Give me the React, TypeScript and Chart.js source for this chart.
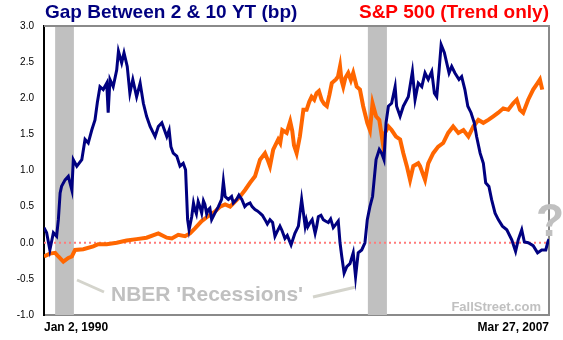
import React, { useEffect, useRef } from "react";
import { Chart, registerables } from "chart.js";

Chart.register(...registerables);

// ---------- DATA ----------
// Yield gap (10Y - 2Y), percentage points, by decimal year
const spreadDates = [
  1990.0, 1990.09, 1990.2, 1990.32, 1990.43, 1990.49, 1990.55, 1990.6, 1990.72, 1990.83, 1990.95,
  1991.0, 1991.12, 1991.29, 1991.4, 1991.51, 1991.63, 1991.74, 1991.82, 1991.91, 1992.02, 1992.14,
  1992.19, 1992.25, 1992.36, 1992.48, 1992.54, 1992.65, 1992.73, 1992.84, 1992.93, 1993.03, 1993.16,
  1993.28, 1993.39, 1993.5, 1993.62, 1993.79, 1993.9, 1994.02, 1994.19, 1994.27, 1994.33, 1994.41,
  1994.53, 1994.64, 1994.75, 1994.83, 1994.9, 1994.95, 1995.04, 1995.1, 1995.15, 1995.2, 1995.26,
  1995.32, 1995.38, 1995.44, 1995.49, 1995.55, 1995.61, 1995.66, 1995.72, 1995.83, 1995.95, 1996.06,
  1996.12, 1996.18, 1996.29, 1996.4, 1996.46, 1996.57, 1996.65, 1996.75, 1996.85, 1996.92, 1997.03,
  1997.1, 1997.2, 1997.28, 1997.37, 1997.45, 1997.54, 1997.62, 1997.71, 1997.8, 1997.88, 1997.95,
  1998.05, 1998.12, 1998.22, 1998.3, 1998.43, 1998.56, 1998.68, 1998.79, 1998.91, 1998.95, 1999.0,
  1999.08, 1999.15, 1999.25, 1999.3, 1999.36, 1999.45, 1999.53, 1999.6, 1999.7, 1999.78, 1999.87,
  1999.95, 2000.04, 2000.1, 2000.16, 2000.24, 2000.33, 2000.44, 2000.55, 2000.63, 2000.72, 2000.84,
  2000.95, 2001.03, 2001.12, 2001.21, 2001.33, 2001.44, 2001.52, 2001.6, 2001.67, 2001.75, 2001.86,
  2001.98, 2002.03, 2002.15, 2002.26, 2002.43, 2002.57, 2002.66, 2002.77, 2002.89, 2003.0, 2003.11,
  2003.23, 2003.32, 2003.4, 2003.48, 2003.55, 2003.66, 2003.74, 2003.82, 2003.91, 2004.02, 2004.16,
  2004.25, 2004.36, 2004.46, 2004.57, 2004.68, 2004.76, 2004.88, 2004.99, 2005.07, 2005.18, 2005.27,
  2005.39, 2005.5, 2005.64, 2005.79, 2005.96, 2006.09, 2006.18, 2006.3, 2006.39, 2006.52, 2006.69,
  2006.84, 2006.98, 2007.12, 2007.19, 2007.23,
];
const spreadValues = [
  0.21, 0.14, -0.1, 0.14, 0.09, 0.32, 0.69, 0.78, 0.87, 0.92, 0.73,
  1.15, 1.06, 1.15, 1.43, 1.38, 1.56, 1.7, 1.94, 2.16, 2.12, 2.21,
  1.8, 2.26, 2.16, 2.39, 2.65, 2.49, 2.63, 2.44, 2.07, 2.26, 2.02,
  2.21, 1.93, 1.75, 1.61, 1.47, 1.61, 1.66, 1.47, 1.56, 1.33, 1.24,
  1.2, 1.06, 1.1, 1.01, 0.32, 0.18, 0.36, 0.55, 0.46, 0.4, 0.57,
  0.5, 0.41, 0.58, 0.53, 0.4, 0.46, 0.48, 0.32, 0.41, 0.5, 0.6,
  0.85, 0.64, 0.6, 0.64, 0.55, 0.6, 0.66, 0.6, 0.5, 0.53, 0.55,
  0.5, 0.46, 0.44, 0.41, 0.38, 0.32, 0.26, 0.32, 0.28, 0.09, 0.15,
  0.23, 0.17, 0.06, 0.1, -0.03, 0.13, 0.23, 0.6, 0.23, 0.31, 0.22,
  0.28, 0.32, 0.13, 0.22, 0.36, 0.38, 0.32, 0.3, 0.28, 0.33, 0.21,
  0.25, 0.3, 0.0, -0.19, -0.42, -0.33, -0.29, -0.14, -0.47, -0.14, -0.1,
  0.0, 0.32, 0.5, 0.64, 1.15, 1.29, 1.24, 1.15, 1.66, 1.89, 1.93,
  2.16, 1.89, 1.75, 1.89, 2.02, 2.37, 1.98, 2.21, 2.16, 2.35, 2.26,
  2.37, 2.07, 2.02, 2.39, 2.74, 2.63, 2.49, 2.35, 2.44, 2.35, 2.26,
  2.3, 2.12, 1.89, 1.8, 1.66, 1.47, 1.24, 1.1, 0.83, 0.78, 0.6,
  0.41, 0.32, 0.23, 0.18, 0.04, -0.12, 0.04, 0.18, 0.01, 0.0, -0.04,
  -0.14, -0.1, -0.1, 0.01, 0.05,
];

// S&P 500 trend (rescaled onto the same axis), by decimal year
const spxDates = [
  1990.0, 1990.2, 1990.38, 1990.49, 1990.66, 1990.83, 1990.95, 1991.06, 1991.34, 1991.68, 1991.85,
  1992.14, 1992.48, 1992.82, 1993.16, 1993.5, 1993.9, 1994.19, 1994.36, 1994.58, 1994.81, 1994.98,
  1995.15, 1995.38, 1995.61, 1995.83, 1996.01, 1996.18, 1996.35, 1996.52, 1996.69, 1996.86, 1997.03,
  1997.2, 1997.37, 1997.54, 1997.63, 1997.71, 1997.82, 1997.99, 1998.06, 1998.13, 1998.28, 1998.4,
  1998.47, 1998.53, 1998.62, 1998.73, 1998.85, 1998.96, 1999.05, 1999.13, 1999.22, 1999.3, 1999.38,
  1999.47, 1999.56, 1999.65, 1999.74, 1999.82, 1999.96, 2000.03, 2000.1, 2000.15, 2000.21, 2000.28,
  2000.38, 2000.47, 2000.55, 2000.67, 2000.78, 2000.89, 2001.03, 2001.12, 2001.21, 2001.33, 2001.44,
  2001.56, 2001.63, 2001.75, 2001.86, 2002.01, 2002.15, 2002.26, 2002.38, 2002.49, 2002.6, 2002.77,
  2002.83, 2003.0, 2003.11, 2003.28, 2003.45, 2003.62, 2003.79, 2003.96, 2004.14, 2004.31, 2004.48,
  2004.65, 2004.82, 2004.99, 2005.16, 2005.33, 2005.5, 2005.67, 2005.84, 2006.01, 2006.13, 2006.24,
  2006.35, 2006.52, 2006.69, 2006.84, 2006.92, 2007.0,
];
const spxValues = [
  -0.19, -0.15, -0.14, -0.19, -0.26, -0.21, -0.19, -0.1, -0.09, -0.05, -0.02,
  -0.02, 0.0, 0.03, 0.05, 0.07, 0.13, 0.07, 0.06, 0.11, 0.09, 0.13,
  0.2, 0.3, 0.37, 0.43, 0.5, 0.53, 0.5, 0.57, 0.64, 0.73, 0.83,
  0.92, 1.15, 1.24, 1.15, 1.06, 1.29, 1.43, 1.38, 1.56, 1.52, 1.68,
  1.55, 1.35, 1.24, 1.47, 1.84, 1.84, 1.95, 2.02, 1.98, 2.07, 2.1,
  1.98, 1.92, 1.89, 2.05, 2.21, 2.26, 2.3, 2.44, 2.25, 2.16, 2.28,
  2.35, 2.25, 2.35, 2.16, 2.12, 1.89, 1.66, 1.56, 1.93, 1.75, 1.7,
  1.38, 1.52, 1.61, 1.56, 1.47, 1.43, 1.24, 1.06, 0.87, 1.06, 1.1,
  1.06, 0.87, 1.1, 1.24, 1.33, 1.38, 1.52, 1.61, 1.52, 1.56, 1.47,
  1.61, 1.7, 1.66, 1.7, 1.75, 1.8, 1.86, 1.84, 1.93, 1.98, 1.84,
  1.8, 1.98, 2.12, 2.21, 2.26, 2.12,
];

// NBER recession bands (decimal years)
const recessionStarts = [1990.38, 2001.05];
const recessionEnds = [1991.02, 2001.7];

// Axis
const xStart = 1990.0;
const xEnd = 2007.23;
const xTickLabels = ["Jan 2, 1990", "Mar 27, 2007"];
const yMin = -1.0;
const yMax = 3.0;
const yStep = 0.5;

const titleLeft = "Gap Between 2 & 10 YT (bp)";
const titleRight = "S&P 500 (Trend only)";
const nberLabel = "NBER 'Recessions'";
const sourceLabel = "FallStreet.com";

const FONT = '"Liberation Sans", Arial, Helvetica, sans-serif';

const decorPlugin = {
  id: "decor",
  beforeDatasetsDraw(chart: any) {
    const { ctx, chartArea, scales } = chart;
    const xs = scales.x;
    ctx.save();
    ctx.fillStyle = "#c0c0c0";
    for (let i = 0; i < recessionStarts.length; i++) {
      const x0 = xs.getPixelForValue(recessionStarts[i]);
      const x1 = xs.getPixelForValue(recessionEnds[i]);
      ctx.fillRect(x0, chartArea.top, x1 - x0, chartArea.bottom - chartArea.top);
    }
    // top & right frame
    ctx.strokeStyle = "#8a8a8a";
    ctx.lineWidth = 2;
    ctx.beginPath();
    ctx.moveTo(chartArea.left, chartArea.top);
    ctx.lineTo(chartArea.right, chartArea.top);
    ctx.lineTo(chartArea.right, chartArea.bottom);
    ctx.stroke();

    // NBER annotation
    ctx.strokeStyle = "#d4d4cc";
    ctx.lineWidth = 3;
    ctx.beginPath();
    ctx.moveTo(77, 280);
    ctx.lineTo(104, 292);
    ctx.moveTo(313, 297);
    ctx.lineTo(356, 287);
    ctx.stroke();
    ctx.fillStyle = "#c0c0c0";
    ctx.font = `bold 21px ${FONT}`;
    ctx.textAlign = "left";
    ctx.textBaseline = "alphabetic";
    ctx.fillText(nberLabel, 111, 301);

    ctx.font = `bold 13px ${FONT}`;
    ctx.textAlign = "right";
    ctx.fillText(sourceLabel, 541, 311);
    ctx.restore();
  },
  afterDraw(chart: any) {
    const { ctx } = chart;
    ctx.save();
    ctx.textBaseline = "alphabetic";
    ctx.font = `bold 19px ${FONT}`;
    ctx.textAlign = "left";
    ctx.fillStyle = "#000080";
    ctx.fillText(titleLeft, 45, 18);
    ctx.textAlign = "right";
    ctx.fillStyle = "#ff0000";
    ctx.fillText(titleRight, 549, 18);

    ctx.font = `bold 46px ${FONT}`;
    ctx.textAlign = "left";
    ctx.fillStyle = "#c0c0c0";
    ctx.fillText("?", 536, 236);
    ctx.restore();
  },
};

export default function App() {
  const ref = useRef<HTMLCanvasElement>(null);

  useEffect(() => {
    document.body.style.margin = "0";
    const canvas = ref.current!;
    const chart = new Chart(canvas, {
      type: "line",
      data: {
        datasets: [
          {
            label: "Gap",
            data: spreadDates.map((d, i) => ({ x: d, y: spreadValues[i] })),
            borderColor: "#000080",
            borderWidth: 3,
            pointRadius: 0,
            tension: 0,
            fill: false,
          },
          {
            label: "S&P",
            data: spxDates.map((d, i) => ({ x: d, y: spxValues[i] })),
            borderColor: "#ff6600",
            borderWidth: 4,
            pointRadius: 0,
            tension: 0,
            fill: false,
          },
          {
            label: "zero",
            data: [
              { x: xStart, y: 0 },
              { x: xEnd, y: 0 },
            ],
            borderColor: "#ff7a7a",
            borderWidth: 2,
            borderDash: [2, 3],
            pointRadius: 0,
            fill: false,
          },
        ],
      },
      options: {
        responsive: false,
        animation: false,
        layout: { padding: { left: 0, right: 14, top: 26, bottom: 0 } },
        plugins: {
          legend: { display: false },
          tooltip: { enabled: false },
          title: { display: false },
        },
        scales: {
          x: {
            type: "linear",
            min: xStart,
            max: xEnd,
            grid: { display: false, drawTicks: false },
            border: { display: true, color: "#8a8a8a", width: 2 },
            afterBuildTicks: (scale: any) => {
              scale.ticks = [{ value: xStart }, { value: xEnd }];
            },
            afterFit: (scale: any) => {
              scale.height = 25;
            },
            ticks: {
              align: "inner",
              maxRotation: 0,
              autoSkip: false,
              padding: 5,
              color: "#000",
              font: { family: FONT, size: 12, weight: "bold" },
              callback: (_v: any, i: number) => xTickLabels[i],
            },
          },
          y: {
            min: yMin,
            max: yMax,
            grid: { display: false, drawTicks: false },
            border: { display: true, color: "#000", width: 2 },
            afterFit: (scale: any) => {
              scale.width = 44;
            },
            ticks: {
              stepSize: yStep,
              padding: 10,
              color: "#000",
              font: { family: FONT, size: 10 },
              callback: (v: any) => Number(v).toFixed(1),
            },
          },
        },
      },
      plugins: [decorPlugin],
    });
    return () => chart.destroy();
  }, []);

  return (
    <canvas
      ref={ref}
      width={563}
      height={340}
      style={{ display: "block", width: 563, height: 340 }}
    />
  );
}
